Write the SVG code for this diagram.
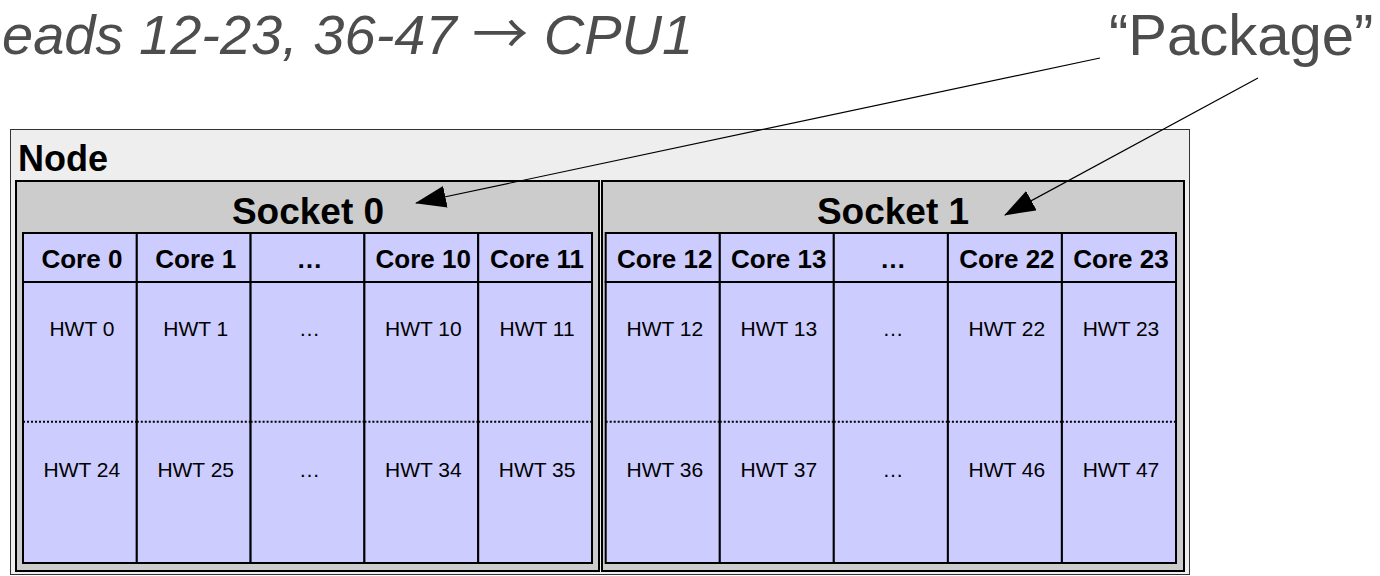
<svg xmlns="http://www.w3.org/2000/svg" width="1380" height="576" viewBox="0 0 1380 576">
<style>
text{font-family:"Liberation Sans",Arial,sans-serif;}
.node{fill:#eeeeee;stroke:#333333;stroke-width:1}
.sock{fill:#cccccc;stroke:#000;stroke-width:2}
.core{fill:#ccccff;stroke:#000;stroke-width:2}
.dot{stroke:#000;stroke-width:2;stroke-dasharray:2 2;fill:none}
.ch{font-size:26px;font-weight:bold;text-anchor:middle;fill:#000}
.hw{font-size:21px;text-anchor:middle;fill:#000}
.sh{font-size:37px;font-weight:bold;text-anchor:middle;fill:#000}
.nl{font-size:36px;font-weight:bold;fill:#000}
.ti{font-size:56px;font-style:italic;fill:#4d4d4d}
.ar{font-family:"Noto Sans CJK SC","DejaVu Sans",sans-serif;font-style:normal}
.pk{font-size:58px;fill:#4d4d4d}
.conn{stroke:#000;stroke-width:1.2;fill:none;marker-end:url(#ah)}
</style>
<defs>
<marker id="ah" markerUnits="userSpaceOnUse" markerWidth="31" markerHeight="22" refX="30" refY="11" orient="auto" viewBox="0 0 31 22">
<path d="M0,0 L31,11 L0,22 z" fill="#000"/>
</marker>
</defs>
<rect width="1380" height="576" fill="#ffffff"/>
<text class="ti" x="2" y="54">eads 12-23, 36-47 <tspan class="ar">→</tspan> CPU1</text>
<text class="pk" x="1109" y="55">“Package”</text>
<g id="node">
<rect class="node" x="10.5" y="129.5" width="1179" height="445"/>
<text class="nl" x="18" y="171">Node</text>
</g>
<g id="socket0">
<rect class="sock" x="16" y="181" width="583" height="390"/>
<text class="sh" x="308" y="223.5">Socket 0</text>
</g>
<g id="socket1">
<rect class="sock" x="602" y="181" width="582" height="390"/>
<text class="sh" x="893" y="224">Socket 1</text>
</g>
<g id="core0"><rect class="core" x="23" y="233" width="113.8" height="49"/><rect class="core" x="23" y="282" width="113.8" height="281"/><line class="dot" x1="23" y1="421.7" x2="136.8" y2="421.7"/><text class="ch" x="81.9" y="267.5">Core 0</text><text class="hw" x="81.9" y="336">HWT 0</text><text class="hw" x="81.9" y="476.7">HWT 24</text></g>
<g id="core1"><rect class="core" x="136.8" y="233" width="113.8" height="49"/><rect class="core" x="136.8" y="282" width="113.8" height="281"/><line class="dot" x1="136.8" y1="421.7" x2="250.6" y2="421.7"/><text class="ch" x="195.7" y="267.5">Core 1</text><text class="hw" x="195.7" y="336">HWT 1</text><text class="hw" x="195.7" y="476.7">HWT 25</text></g>
<g id="core-dots0"><rect class="core" x="250.6" y="233" width="113.8" height="49"/><rect class="core" x="250.6" y="282" width="113.8" height="281"/><line class="dot" x1="250.6" y1="421.7" x2="364.4" y2="421.7"/><text class="ch" x="309.5" y="267.5">…</text><text class="hw" x="309.5" y="336">…</text><text class="hw" x="309.5" y="476.7">…</text></g>
<g id="core10"><rect class="core" x="364.4" y="233" width="113.8" height="49"/><rect class="core" x="364.4" y="282" width="113.8" height="281"/><line class="dot" x1="364.4" y1="421.7" x2="478.2" y2="421.7"/><text class="ch" x="423.3" y="267.5">Core 10</text><text class="hw" x="423.3" y="336">HWT 10</text><text class="hw" x="423.3" y="476.7">HWT 34</text></g>
<g id="core11"><rect class="core" x="478.2" y="233" width="113.8" height="49"/><rect class="core" x="478.2" y="282" width="113.8" height="281"/><line class="dot" x1="478.2" y1="421.7" x2="592" y2="421.7"/><text class="ch" x="537.1" y="267.5">Core 11</text><text class="hw" x="537.1" y="336">HWT 11</text><text class="hw" x="537.1" y="476.7">HWT 35</text></g>
<g id="core12"><rect class="core" x="605.7" y="233" width="114.1" height="49"/><rect class="core" x="605.7" y="282" width="114.1" height="281"/><line class="dot" x1="605.7" y1="421.7" x2="719.8" y2="421.7"/><text class="ch" x="664.8" y="267.5">Core 12</text><text class="hw" x="664.8" y="336">HWT 12</text><text class="hw" x="664.8" y="476.7">HWT 36</text></g>
<g id="core13"><rect class="core" x="719.8" y="233" width="114" height="49"/><rect class="core" x="719.8" y="282" width="114" height="281"/><line class="dot" x1="719.8" y1="421.7" x2="833.8" y2="421.7"/><text class="ch" x="778.8" y="267.5">Core 13</text><text class="hw" x="778.8" y="336">HWT 13</text><text class="hw" x="778.8" y="476.7">HWT 37</text></g>
<g id="core-dots1"><rect class="core" x="833.8" y="233" width="114.1" height="49"/><rect class="core" x="833.8" y="282" width="114.1" height="281"/><line class="dot" x1="833.8" y1="421.7" x2="947.9" y2="421.7"/><text class="ch" x="892.9" y="267.5">…</text><text class="hw" x="892.9" y="336">…</text><text class="hw" x="892.9" y="476.7">…</text></g>
<g id="core22"><rect class="core" x="947.9" y="233" width="114" height="49"/><rect class="core" x="947.9" y="282" width="114" height="281"/><line class="dot" x1="947.9" y1="421.7" x2="1061.9" y2="421.7"/><text class="ch" x="1006.9" y="267.5">Core 22</text><text class="hw" x="1006.9" y="336">HWT 22</text><text class="hw" x="1006.9" y="476.7">HWT 46</text></g>
<g id="core23"><rect class="core" x="1061.9" y="233" width="114.1" height="49"/><rect class="core" x="1061.9" y="282" width="114.1" height="281"/><line class="dot" x1="1061.9" y1="421.7" x2="1176" y2="421.7"/><text class="ch" x="1121" y="267.5">Core 23</text><text class="hw" x="1121" y="336">HWT 23</text><text class="hw" x="1121" y="476.7">HWT 47</text></g>
<g id="connectors">
<line class="conn" x1="1100" y1="58" x2="416" y2="203"/>
<line class="conn" x1="1258" y1="78" x2="1005" y2="215"/>
</g>
</svg>
